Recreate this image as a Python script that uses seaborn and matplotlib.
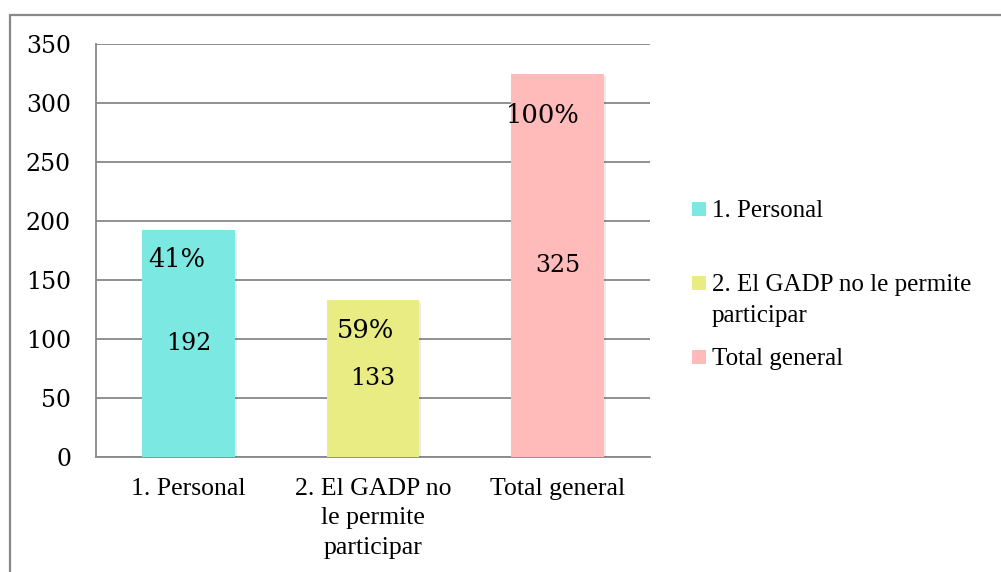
import matplotlib
matplotlib.use('Agg')
import matplotlib.pyplot as plt
import matplotlib.patheffects as pe
from matplotlib.lines import Line2D
from matplotlib.patches import Rectangle
import seaborn as sns
import pandas as pd

# --- data ---
categories = ['1. Personal', '2. El GADP no le permite participar', 'Total general']
tick_labels = ['1. Personal', '2. El GADP no\nle permite\nparticipar', 'Total general']
legend_labels = ['1. Personal', '2. El GADP no le permite\nparticipar', 'Total general']
values = [192, 133, 325]
pct_labels = ['41%', '59%', '100%']
pct_y = [167, 107, 289]          # where the percentage boxes sit
pct_dx = [-0.065, -0.04, -0.08]
colors = ['#7BE9E1', '#E9EB83', '#FFBABA']

GRAY = '#888888'
SERIF_NUM = 'DejaVu Serif'
SERIF_TXT = 'Liberation Serif'

sns.set_style('white')
plt.rcParams['text.color'] = 'black'
plt.rcParams['xtick.labelcolor'] = 'black'
plt.rcParams['ytick.labelcolor'] = 'black'

fig = plt.figure(figsize=(10.01, 5.72), dpi=100)
ax = fig.add_axes([96 / 1001, 1 - 457 / 572, 554 / 1001, 413 / 572])

df = pd.DataFrame({'cat': categories, 'val': values})
sns.barplot(data=df, x='cat', y='val', hue='cat', palette=colors, width=0.5,
            dodge=False, legend=False, ax=ax, zorder=3, saturation=1)

for bar in ax.patches:
    bar.set_linewidth(0)
    bar.set_path_effects([pe.SimplePatchShadow(offset=(1.5, -1.5), alpha=0.1), pe.Normal()])

ax.set_xlim(-0.5, 2.5)
ax.set_ylim(0, 350)
ax.set_yticks(range(0, 351, 50))
ax.set_xticks(range(3))
ax.set_xticklabels(tick_labels, fontfamily=SERIF_TXT, fontsize=18.5, linespacing=1.45)
ax.set_xticks([-0.5, 0.5, 1.5, 2.5], minor=True)
ax.tick_params(axis='x', which='major', length=0, pad=15)
ax.tick_params(axis='x', which='minor', length=5.5, width=1.3, color=GRAY, direction='out')
ax.tick_params(axis='y', length=6, width=1.3, color=GRAY, direction='out', pad=12,
               labelsize=17)
for lab in ax.get_yticklabels():
    lab.set_fontfamily(SERIF_NUM)
ax.set_xlabel('')
ax.set_ylabel('')

ax.grid(axis='y', color=GRAY, linewidth=1.3, zorder=0)
ax.set_axisbelow(True)
for side in ['top', 'right']:
    ax.spines[side].set_visible(False)
for side in ['left', 'bottom']:
    ax.spines[side].set_color(GRAY)
    ax.spines[side].set_linewidth(1.3)

# value labels in the middle of each bar, percentages near the top
for i, (v, p) in enumerate(zip(values, pct_labels)):
    ax.text(i, v / 2, str(v), ha='center', va='center', fontsize=17,
            fontfamily=SERIF_NUM, zorder=5)
    ax.text(i + pct_dx[i], pct_y[i], p, ha='center', va='center', fontsize=18.5,
            fontfamily=SERIF_NUM, zorder=5)

# legend on the right, drawn as squares + text
sq_centers = [209, 283, 357]
baselines = [217, 322, 365]      # baseline of the last line of each entry
for col, lab, yc, yb in zip(colors, legend_labels, sq_centers, baselines):
    fig.add_artist(Rectangle((692 / 1001, 1 - (yc + 7) / 572), 14 / 1001, 14 / 572,
                             facecolor=col, edgecolor='none', transform=fig.transFigure))
    fig.text(712 / 1001, 1 - yb / 572, lab, ha='left', va='baseline', fontsize=18,
             fontfamily=SERIF_TXT, linespacing=1.5)

# outer chart border (left and top visible)
fig.add_artist(Line2D([10 / 1001, 10 / 1001], [0, 1 - 15 / 572], color=GRAY, linewidth=1.6,
                      transform=fig.transFigure))
fig.add_artist(Line2D([10 / 1001, 1], [1 - 15 / 572, 1 - 15 / 572], color=GRAY, linewidth=1.6,
                      transform=fig.transFigure))

fig.savefig('out.png', dpi=100)
